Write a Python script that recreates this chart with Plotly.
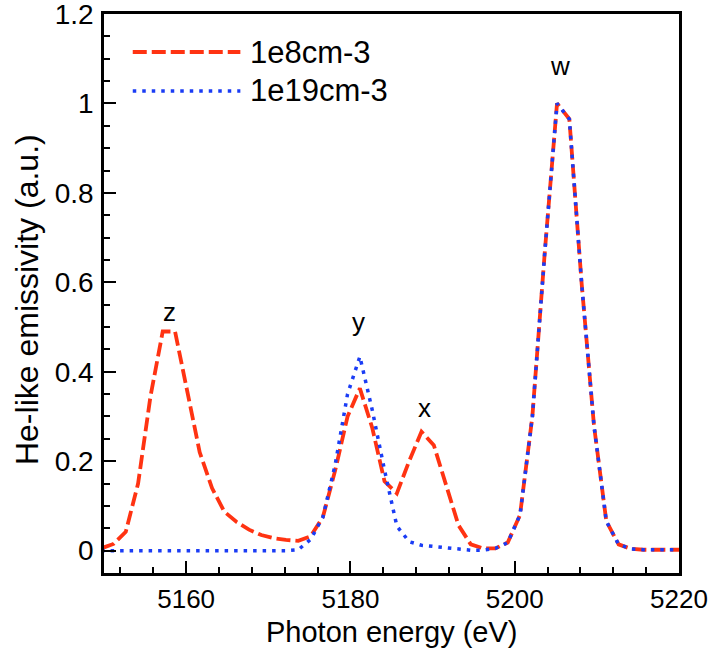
import plotly.graph_objects as go

# ---- data ----
energy = [5149.65, 5151.15, 5152.65, 5154.15, 5155.65, 5157.15, 5158.65, 5160.15,
          5161.65, 5163.15, 5164.65, 5166.15, 5167.65, 5169.15, 5170.65, 5172.15,
          5173.65, 5175.15, 5176.65, 5178.15, 5179.65, 5181.15, 5182.65, 5184.15,
          5185.65, 5187.15, 5188.65, 5190.15, 5191.65, 5193.15, 5194.65, 5196.15,
          5197.65, 5199.15, 5200.65, 5202.15, 5203.65, 5205.15, 5206.65, 5208.15,
          5209.65, 5211.15, 5212.65, 5214.15, 5215.65, 5217.15, 5218.65, 5220.15]

low_density = [0.005, 0.015, 0.042, 0.150, 0.344, 0.490, 0.490, 0.355,
               0.220, 0.140, 0.087, 0.064, 0.047, 0.035, 0.028, 0.024,
               0.022, 0.032, 0.075, 0.180, 0.300, 0.363, 0.275, 0.155,
               0.128, 0.200, 0.266, 0.236, 0.150, 0.057, 0.014, 0.005,
               0.005, 0.018, 0.080, 0.300, 0.665, 1.000, 0.965, 0.597,
               0.280, 0.066, 0.014, 0.004, 0.002, 0.002, 0.002, 0.002]

high_density = [0.0, 0.0, 0.0, 0.0, 0.0, 0.0, 0.0, 0.0,
                0.0, 0.0, 0.0, 0.0, 0.0, 0.0, 0.0, 0.0,
                0.002, 0.025, 0.075, 0.193, 0.350, 0.434, 0.315, 0.180,
                0.055, 0.020, 0.012, 0.009, 0.007, 0.004, 0.001, 0.001,
                0.005, 0.018, 0.080, 0.300, 0.665, 1.000, 0.965, 0.597,
                0.280, 0.066, 0.014, 0.004, 0.002, 0.002, 0.002, 0.002]

series_names = ["1e8cm-3", "1e19cm-3"]
line_labels = ["z", "y", "x", "w"]
line_label_x = [5158.0, 5181.0, 5189.0, 5205.5]
line_label_y = [0.534, 0.511, 0.319, 1.084]
x_title = "Photon energy (eV)"
y_title = "He-like emissivity (a.u.)"

RED = "#ff3312"
BLUE = "#1a3cf5"
FONT = "Liberation Sans, Arial, Helvetica, sans-serif"

fig = go.Figure()
fig.add_trace(go.Scatter(x=energy, y=low_density, mode="lines", name=series_names[0],
                         line=dict(color=RED, width=3.8, dash="14px,5px")))
fig.add_trace(go.Scatter(x=energy, y=high_density, mode="lines", name=series_names[1],
                         line=dict(color=BLUE, width=3.5, dash="3.5px,6px")))

for t, xx, yy in zip(line_labels, line_label_x, line_label_y):
    fig.add_annotation(x=xx, y=yy, text=t, showarrow=False,
                       font=dict(size=26, color="black", family=FONT))

# manual legend (long line samples as in the reference)
leg_y = [1.115, 1.028]
styles = [dict(color=RED, width=3.8, dash="14px,5px"), dict(color=BLUE, width=3.5, dash="3.5px,6px")]
for name, ly, st in zip(series_names, leg_y, styles):
    fig.add_shape(type="line", xref="x", yref="y", x0=5153.5, x1=5166.6, y0=ly, y1=ly, line=st)
    fig.add_annotation(x=5167.5, y=ly, text=name, showarrow=False, xanchor="left",
                       font=dict(size=31, color="black", family=FONT))

# axis titles placed as annotations (tight spacing as in the reference)
fig.add_annotation(xref="paper", yref="paper", x=0.5, y=-0.106, text=x_title,
                   showarrow=False, xanchor="center", yanchor="middle",
                   font=dict(size=29, color="black", family=FONT))
fig.add_annotation(xref="paper", yref="paper", x=-0.134, y=0.49, text=y_title,
                   showarrow=False, xanchor="center", yanchor="middle", textangle=-90,
                   font=dict(size=32, color="black", family=FONT))

fig.update_layout(
    width=715, height=664,
    margin=dict(l=104, r=36, t=14, b=91),
    paper_bgcolor="white", plot_bgcolor="white",
    showlegend=False,
    font=dict(family=FONT, size=26, color="black"),
)
fig.update_xaxes(range=[5150, 5220], tick0=5160, dtick=20,
                 ticks="inside", ticklen=12, tickwidth=2, tickcolor="black",
                 minor=dict(tick0=5152, dtick=4, ticks="inside", ticklen=6, tickwidth=1.5, tickcolor="black"),
                 showline=True, linewidth=2.5, linecolor="black", mirror=True,
                 showgrid=False, zeroline=False, automargin=False,
                 tickfont=dict(size=26, family=FONT), ticklabelstandoff=1,
                 ticklabeloverflow="allow")
fig.update_yaxes(range=[-0.05, 1.2], tick0=0, dtick=0.2,
                 ticks="inside", ticklen=12, tickwidth=2, tickcolor="black",
                 minor=dict(tick0=0, dtick=0.05, ticks="inside", ticklen=6, tickwidth=1.5, tickcolor="black"),
                 showline=True, linewidth=2.5, linecolor="black", mirror=True,
                 showgrid=False, zeroline=False, automargin=False,
                 tickfont=dict(size=28, family=FONT), ticklabelstandoff=2,
                 ticklabeloverflow="allow")

fig.write_html("out.html")
